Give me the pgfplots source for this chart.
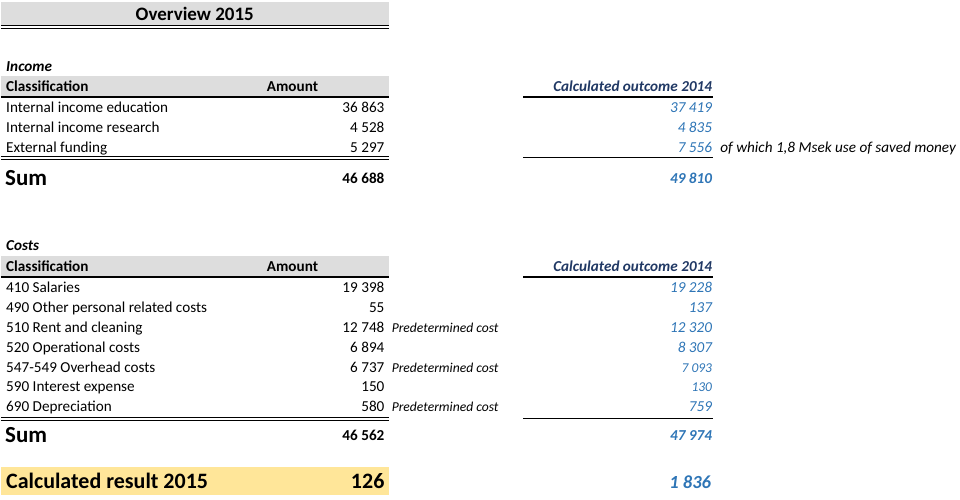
\documentclass[border=0pt]{standalone}
\usepackage{pgfplots}
\pgfplotsset{compat=1.18}
\usepackage{fontspec}
\setmainfont{Carlito}
\definecolor{valblue}{HTML}{2E75B6}
\definecolor{hdrblue}{HTML}{203864}
\definecolor{bandgray}{HTML}{DDDDDD}
\definecolor{bandyellow}{HTML}{FFE699}
\newcommand{\bodyf}{\fontsize{15.2}{18}\selectfont}
\newcommand{\notef}{\fontsize{13.6}{16}\selectfont}
\newcommand{\bigf}{\fontsize{22}{26}\selectfont}
\newcommand{\sumf}{\fontsize{23}{26}\selectfont}
\pgfplotsset{
  vals/.style={only marks, mark=none, point meta=explicit,
    nodes near coords,
    every node near coord/.append style={anchor=mid east, inner sep=0pt, yshift=-3pt, #1}},
}
\tikzset{txt/.style={anchor=mid west, inner sep=0pt, yshift=-3pt}}
\begin{document}
\begin{tikzpicture}
\begin{axis}[scale only axis, width=960pt, height=500pt,
  xmin=0, xmax=960, ymin=0, ymax=500, y dir=reverse,
  hide axis, clip=false,
  /pgf/number format/assume math mode=true,
  /pgf/number format/.cd, fixed, precision=0, 1000 sep={\hspace{0.23em}}]
\path (axis cs:0,0) rectangle (axis cs:960,500);
% bands
\fill[bandgray] (axis cs:0,2) rectangle (axis cs:388,26);
\fill[bandgray] (axis cs:0,76) rectangle (axis cs:388,96);
\fill[bandgray] (axis cs:0,256) rectangle (axis cs:388,276);
\fill[bandyellow] (axis cs:0,467) rectangle (axis cs:388,496);
% rules
\draw[line width=1pt] (axis cs:0,26) -- (axis cs:388,26);
\draw[line width=0.8pt] (axis cs:0,28.8) -- (axis cs:388,28.8);
\draw[line width=2pt] (axis cs:0,97) -- (axis cs:388,97);
\draw[line width=2pt] (axis cs:523,97) -- (axis cs:713,97);
\draw[line width=0.9pt] (axis cs:0,157) -- (axis cs:388,157);
\draw[line width=0.9pt] (axis cs:0,160) -- (axis cs:388,160);
\draw[line width=0.9pt] (axis cs:523,158) -- (axis cs:713,158);
\draw[line width=2pt] (axis cs:0,277) -- (axis cs:388,277);
\draw[line width=2pt] (axis cs:523,277) -- (axis cs:713,277);
\draw[line width=0.9pt] (axis cs:0,418) -- (axis cs:388,418);
\draw[line width=0.9pt] (axis cs:0,421) -- (axis cs:388,421);
\draw[line width=0.9pt] (axis cs:523,419) -- (axis cs:713,419);
% texts
\node[anchor=mid, inner sep=0pt, yshift=-4pt, font=\fontsize{19}{22}\selectfont\bfseries] at (axis cs:194,14) {Overview 2015};
\node[txt, font=\bodyf\bfseries\itshape] at (axis cs:5,66) {Income};
\node[txt, font=\bodyf\bfseries] at (axis cs:5,86) {Classification};
\node[txt, font=\bodyf\bfseries] at (axis cs:266,86) {Amount};
\node[txt, anchor=mid east, font=\bodyf\bfseries\itshape, text=hdrblue] at (axis cs:712,86) {Calculated outcome 2014};
\node[txt, font=\bodyf] at (axis cs:5,107) {Internal income education};
\node[txt, font=\bodyf] at (axis cs:5,127) {Internal income research};
\node[txt, font=\bodyf] at (axis cs:5,147) {External funding};
\node[txt, font=\bodyf\itshape] at (axis cs:720,147) {of which 1,8 Msek use of saved money};
\node[txt, yshift=-3pt, font=\sumf\bfseries] at (axis cs:4,177) {Sum};
\node[txt, font=\bodyf\bfseries\itshape] at (axis cs:5,245) {Costs};
\node[txt, font=\bodyf\bfseries] at (axis cs:5,266) {Classification};
\node[txt, font=\bodyf\bfseries] at (axis cs:266,266) {Amount};
\node[txt, anchor=mid east, font=\bodyf\bfseries\itshape, text=hdrblue] at (axis cs:712,266) {Calculated outcome 2014};
\node[txt, font=\bodyf] at (axis cs:5,287) {410 Salaries};
\node[txt, font=\bodyf] at (axis cs:5,307) {490 Other personal related costs};
\node[txt, font=\bodyf] at (axis cs:5,327) {510 Rent and cleaning};
\node[txt, font=\bodyf] at (axis cs:5,347) {520 Operational costs};
\node[txt, font=\bodyf] at (axis cs:5,367) {547-549 Overhead costs};
\node[txt, font=\bodyf] at (axis cs:5,387) {590 Interest expense};
\node[txt, font=\bodyf] at (axis cs:5,407) {690 Depreciation};
\node[txt, font=\notef\itshape] at (axis cs:391,327) {Predetermined cost};
\node[txt, font=\notef\itshape] at (axis cs:391,367) {Predetermined cost};
\node[txt, font=\notef\itshape] at (axis cs:391,407) {Predetermined cost};
\node[txt, yshift=-3pt, font=\sumf\bfseries] at (axis cs:4,435) {Sum};
\node[txt, yshift=-3pt, font=\bigf\bfseries] at (axis cs:5,481) {Calculated result 2015};
% income amounts
\addplot[vals={font=\bodyf}] table[x=x, y=y, meta=v] {
x y v
384 107 36863
384 127 4528
384 147 5297
};
\addplot[vals={font=\bodyf\itshape, text=valblue}] table[x=x, y=y, meta=v] {
x y v
712 107 37419
712 127 4835
712 147 7556
};
\addplot[vals={font=\bodyf\bfseries}] table[x=x, y=y, meta=v] {
x y v
384 178 46688
};
\addplot[vals={font=\bodyf\bfseries\itshape, text=valblue}] table[x=x, y=y, meta=v] {
x y v
712 178 49810
};
% cost amounts
\addplot[vals={font=\bodyf}] table[x=x, y=y, meta=v] {
x y v
384 287 19398
384 307 55
384 327 12748
384 347 6894
384 367 6737
384 387 150
384 407 580
};
\addplot[vals={font=\bodyf\itshape, text=valblue}] table[x=x, y=y, meta=v] {
x y v
712 287 19228
712 307 137
712 327 12320
712 347 8307
712 407 759
};
\addplot[vals={font=\fontsize{13.5}{16}\selectfont\itshape, text=valblue}] table[x=x, y=y, meta=v] {
x y v
712 367 7093
712 387 130
};
\addplot[vals={font=\bodyf\bfseries}] table[x=x, y=y, meta=v] {
x y v
384 436 46562
};
\addplot[vals={font=\bodyf\bfseries\itshape, text=valblue}] table[x=x, y=y, meta=v] {
x y v
712 436 47974
};
% result
\addplot[vals={font=\bigf\bfseries, yshift=-3pt}] table[x=x, y=y, meta=v] {
x y v
384 481 126
};
\addplot[vals={font=\fontsize{18.5}{22}\selectfont\bfseries\itshape, text=valblue, yshift=-2pt}] table[x=x, y=y, meta=v] {
x y v
711 482 1836
};
\end{axis}
\end{tikzpicture}
\end{document}
